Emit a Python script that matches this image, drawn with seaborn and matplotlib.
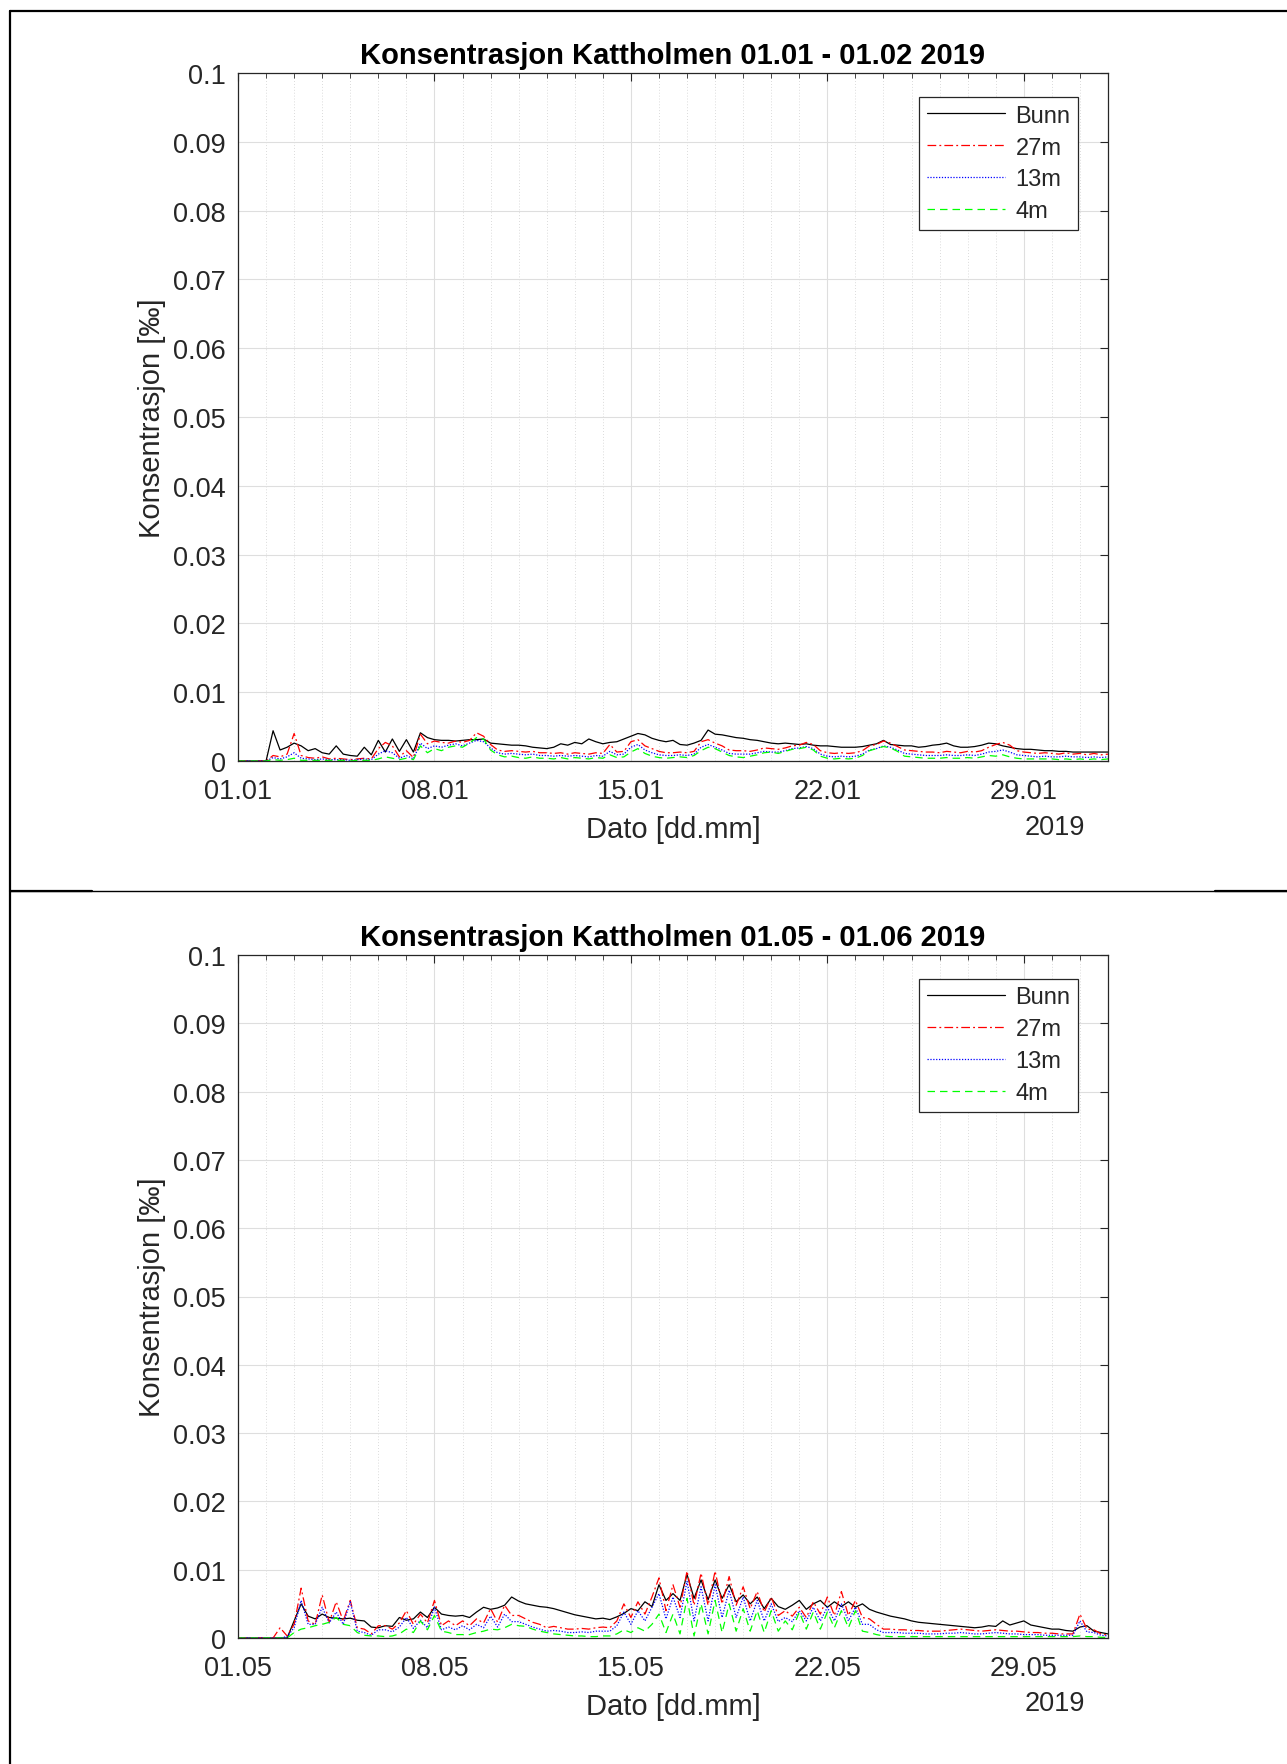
import numpy as np
import pandas as pd
import matplotlib
matplotlib.use("Agg")
import matplotlib.pyplot as plt
import matplotlib.dates as mdates
from matplotlib.lines import Line2D
from matplotlib.ticker import FixedLocator
import seaborn as sns

# Concentrations are written in thousandths (0.001 ‰) and sampled every 6 hours.
SCALE = 1e-3
SAMPLE_FREQ = "6h"

series_names = ["Bunn", "27m", "13m", "4m"]
line_colors = {"Bunn": "black", "27m": "red", "13m": "blue", "4m": "#00ff00"}
line_dashes = {"Bunn": "", "27m": (7, 2.5, 1.5, 2.5), "13m": (1, 1.3), "4m": (6, 4)}

# ---- January 2019: one row per day (00, 06, 12, 18 h), last value is 01.02 00:00
jan_bunn = [
    0, 0, 0, 0,
    0, 4.4, 1.6, 2.0,
    2.6, 2.2, 1.5, 1.8,
    1.2, 1.0, 2.2, 1.0,
    0.8, 0.7, 2.0, 0.9,
    3.0, 1.3, 3.2, 1.4,
    3.1, 1.3, 4.1, 3.4,
    3.1, 3.0, 3.0, 2.9,
    3.0, 3.1, 3.1, 3.2,
    2.6, 2.5, 2.4, 2.3,
    2.3, 2.2, 2.0, 1.9,
    1.8, 2.0, 2.5, 2.3,
    2.7, 2.5, 3.2, 2.8,
    2.5, 2.7, 2.8, 3.2,
    3.6, 4.0, 3.8, 3.3,
    3.0, 2.8, 3.0, 2.4,
    2.3, 2.6, 3.0, 4.5,
    3.9, 3.8, 3.6, 3.4,
    3.3, 3.1, 3.0, 2.8,
    2.6, 2.5, 2.6, 2.5,
    2.4, 2.5, 2.3, 2.2,
    2.2, 2.1, 2.0, 2.0,
    2.0, 2.1, 2.3, 2.5,
    3.0, 2.4, 2.3, 2.2,
    2.2, 2.0, 2.1, 2.3,
    2.4, 2.6, 2.2, 2.0,
    2.0, 2.1, 2.3, 2.6,
    2.5, 2.2, 2.0, 1.8,
    1.7, 1.7, 1.6, 1.5,
    1.5, 1.4, 1.4, 1.3,
    1.3, 1.3, 1.3, 1.3,
    1.3,
]
jan_27m = [
    0, 0, 0, 0,
    0, 0.8, 0.6, 1.0,
    4.0, 0.8, 0.5, 0.4,
    0.6, 0.3, 0.4, 0.3,
    0.2, 0.3, 0.4, 0.3,
    1.8, 2.7, 2.2, 0.6,
    1.5, 0.5, 3.9, 2.5,
    2.9, 2.7, 2.6, 2.9,
    2.7, 3.0, 4.1, 3.6,
    2.4, 1.6, 1.4, 1.5,
    1.4, 1.3, 1.4, 1.2,
    1.2, 1.1, 1.2, 1.0,
    1.2, 1.1, 1.0, 1.2,
    1.1, 2.4, 1.3, 1.4,
    2.8, 3.1, 2.2, 1.8,
    1.4, 1.2, 1.2, 1.3,
    1.2, 1.4, 2.8, 3.1,
    2.6, 2.2, 1.6, 1.5,
    1.5, 1.4, 1.6, 1.9,
    1.8, 1.7, 1.9, 2.2,
    2.3, 2.7, 2.4, 1.5,
    1.2, 1.1, 1.2, 1.1,
    1.2, 1.5, 2.2, 2.4,
    2.9, 2.6, 2.1, 1.6,
    1.5, 1.4, 1.3, 1.3,
    1.2, 1.4, 1.3, 1.2,
    1.4, 1.3, 1.5, 2.0,
    2.4, 2.7, 2.3, 1.5,
    1.3, 1.2, 1.1, 1.2,
    1.1, 1.0, 1.2, 1.0,
    1.1, 0.9, 1.1, 0.9,
    1.0,
]
jan_13m = [
    0, 0, 0, 0,
    0, 0.5, 0.3, 0.6,
    1.2, 0.4, 0.3, 0.2,
    0.3, 0.2, 0.2, 0.2,
    0.1, 0.2, 0.3, 0.2,
    1.0, 1.5, 1.2, 0.4,
    0.8, 0.3, 2.6, 1.8,
    2.2, 2.0, 2.3, 2.5,
    2.2, 2.6, 3.0, 2.8,
    1.9, 1.2, 1.0, 1.1,
    1.0, 0.9, 1.0, 0.8,
    0.8, 0.7, 0.8, 0.7,
    0.8, 0.7, 0.6, 0.8,
    0.7, 1.4, 0.9, 1.0,
    2.0, 2.4, 1.6, 1.2,
    0.9, 0.8, 0.8, 0.9,
    0.8, 1.0, 2.0, 2.4,
    2.0, 1.6, 1.1, 1.0,
    1.0, 1.0, 1.2, 1.4,
    1.3, 1.3, 1.5, 1.8,
    1.9, 2.1, 1.8, 1.0,
    0.7, 0.6, 0.7, 0.6,
    0.7, 1.0, 1.6, 1.8,
    2.2, 2.0, 1.6, 1.1,
    1.0, 0.9, 0.8, 0.8,
    0.8, 0.9, 0.8, 0.8,
    0.9, 0.8, 1.0, 1.3,
    1.4, 1.6, 1.3, 0.9,
    0.8, 0.7, 0.6, 0.7,
    0.6, 0.6, 0.7, 0.6,
    0.6, 0.5, 0.6, 0.5,
    0.6,
]
jan_4m = [
    0, 0, 0, 0,
    0, 0.2, 0.1, 0.2,
    0.4, 0.1, 0.1, 0.1,
    0.1, 0.1, 0.1, 0.1,
    0.0, 0.1, 0.1, 0.1,
    0.3, 0.6, 0.4, 0.2,
    0.4, 0.2, 2.2, 1.2,
    1.8, 1.5, 2.0, 2.2,
    2.0, 2.6, 3.4, 3.2,
    1.6, 0.9, 0.6, 0.7,
    0.5, 0.4, 0.6, 0.4,
    0.4, 0.3, 0.5, 0.3,
    0.5, 0.4, 0.3, 0.5,
    0.4, 0.9, 0.5, 0.6,
    1.3, 1.8, 1.1, 0.7,
    0.5, 0.4, 0.5, 0.6,
    0.5, 0.8, 1.5, 2.0,
    1.8, 1.3, 0.8, 0.6,
    0.5, 0.7, 0.9, 1.2,
    1.3, 1.1, 1.4, 1.7,
    1.8, 2.0, 1.6, 0.7,
    0.4, 0.3, 0.4, 0.3,
    0.4, 0.8, 1.5, 1.8,
    2.1, 1.9, 1.4, 0.7,
    0.6, 0.5, 0.4, 0.4,
    0.4, 0.5, 0.4, 0.4,
    0.5, 0.4, 0.6, 0.8,
    0.7, 0.9, 0.6, 0.4,
    0.3, 0.3, 0.3, 0.3,
    0.3, 0.2, 0.3, 0.2,
    0.3, 0.2, 0.3, 0.2,
    0.3,
]

# ---- May 2019
may_bunn = [
    0, 0, 0, 0,
    0, 0, 0, 0,
    2.5, 5.0, 3.2, 2.8,
    3.5, 3.0, 2.9, 2.8,
    2.9, 2.6, 2.5, 1.6,
    1.5, 1.8, 1.7, 3.0,
    2.6, 2.8, 3.8, 3.0,
    4.5, 3.5, 3.3, 3.2,
    3.3, 3.0, 3.8, 4.5,
    4.2, 4.4, 4.8, 6.0,
    5.4, 5.0, 4.8, 4.6,
    4.5, 4.3, 4.0, 3.7,
    3.4, 3.2, 3.0, 2.8,
    2.9, 2.7, 3.1, 3.6,
    4.3, 4.0, 5.3, 4.6,
    7.8, 5.5, 6.5, 5.5,
    9.3, 5.8, 8.5, 5.6,
    8.5, 5.8, 7.8, 5.3,
    6.3, 5.0, 6.0, 4.3,
    5.8, 4.6, 4.2, 4.8,
    5.5, 4.2, 5.0, 5.5,
    4.5, 5.3, 4.6, 5.3,
    4.5, 5.0, 4.2, 3.8,
    3.5, 3.2, 3.0, 2.8,
    2.5, 2.3, 2.2, 2.1,
    2.0, 1.9, 1.8, 1.7,
    1.6, 1.5, 1.6, 1.8,
    1.7, 2.5, 1.9, 2.2,
    2.5, 1.9, 1.7, 1.5,
    1.3, 1.3, 1.1, 1.0,
    1.6, 1.8, 1.0, 0.8,
    0.6,
]
may_27m = [
    0, 0, 0, 0,
    0, 0, 1.5, 0.3,
    2.0, 7.3, 2.5, 2.0,
    6.3, 2.3, 5.3, 2.5,
    5.5, 1.5, 1.3, 0.6,
    1.8, 1.8, 1.3, 2.2,
    4.0, 2.0, 3.5, 2.2,
    5.5, 1.8, 2.5, 1.8,
    2.5, 1.8, 2.8, 2.2,
    4.3, 2.3, 4.8, 3.3,
    3.3, 2.8, 2.3, 2.0,
    1.5, 1.7, 1.5, 1.3,
    1.3, 1.4, 1.3, 1.5,
    1.6, 1.5, 2.5, 5.0,
    3.0, 5.3, 3.5, 6.0,
    8.8, 4.0, 7.8, 4.5,
    9.8, 4.8, 9.5, 4.8,
    9.8, 5.0, 9.0, 4.8,
    7.5, 4.3, 6.8, 3.8,
    6.0, 3.3, 4.0, 3.2,
    4.5, 3.0, 5.3, 3.5,
    6.0, 3.3, 6.8, 3.3,
    5.5, 3.0, 2.8, 2.0,
    1.3, 1.3, 1.2, 1.2,
    1.1, 1.1, 1.0, 1.0,
    1.0, 1.1, 1.2, 1.3,
    1.2, 1.1, 1.0, 1.1,
    1.2, 1.1, 1.0, 1.0,
    0.9, 0.8, 0.8, 0.7,
    0.7, 0.6, 0.6, 0.6,
    3.5, 1.3, 1.2, 0.6,
    0.4,
]
may_13m = [
    0, 0, 0, 0,
    0, 0, 0, 0.2,
    1.5, 5.5, 2.0, 2.0,
    4.5, 2.2, 3.8, 2.0,
    5.3, 1.0, 0.8, 0.4,
    1.2, 1.2, 0.9, 1.6,
    3.0, 1.4, 2.6, 1.5,
    4.5, 1.2, 1.6, 1.2,
    1.8, 1.2, 2.0, 1.5,
    3.2, 1.6, 3.5, 2.4,
    2.4, 2.0, 1.6, 1.3,
    1.0, 1.1, 1.0, 0.8,
    0.8, 0.9, 0.8, 1.0,
    1.0, 1.0, 1.8, 3.8,
    2.0, 4.0, 2.5, 4.5,
    6.5, 2.8, 6.0, 3.0,
    8.3, 2.5, 7.5, 2.5,
    7.8, 3.0, 7.0, 3.0,
    6.0, 2.5, 5.5, 2.5,
    5.0, 2.4, 3.0, 2.4,
    4.0, 2.5, 4.5, 2.5,
    4.5, 2.5, 5.0, 2.5,
    4.5, 2.0, 2.0, 1.2,
    0.8, 0.8, 0.8, 0.7,
    0.7, 0.7, 0.6, 0.6,
    0.6, 0.7, 0.7, 0.8,
    0.7, 0.6, 0.6, 0.7,
    0.8, 0.7, 0.6, 0.6,
    0.5, 0.5, 0.5, 0.4,
    0.4, 0.4, 0.4, 0.4,
    2.5, 0.9, 0.8, 0.4,
    0.3,
]
may_4m = [
    0, 0, 0, 0,
    0, 0, 0, 0,
    0.8, 1.3, 1.5, 1.8,
    2.0, 2.3, 3.0, 2.0,
    1.8, 0.8, 0.4, 0.3,
    0.3, 0.2, 0.3, 0.6,
    1.3, 0.8, 2.5, 1.2,
    3.3, 1.0, 0.8, 0.5,
    0.5, 0.5, 0.8, 1.0,
    1.3, 1.2, 1.5, 2.0,
    1.8, 1.7, 1.3, 1.0,
    0.8, 0.6, 0.5, 0.4,
    0.3, 0.3, 0.2, 0.2,
    0.3, 0.3, 0.6, 1.2,
    0.8, 1.5, 1.0, 2.0,
    3.5, 0.8, 3.5, 0.6,
    5.8, 0.3, 5.0, 0.6,
    5.5, 0.8, 5.0, 1.0,
    4.3, 1.0, 4.0, 0.8,
    4.0, 1.0, 2.5, 1.2,
    3.8, 1.3, 3.8, 1.3,
    3.8, 1.5, 4.0, 1.5,
    4.0, 1.0, 0.8, 0.5,
    0.3, 0.2, 0.2, 0.2,
    0.2, 0.2, 0.2, 0.2,
    0.2, 0.2, 0.2, 0.2,
    0.2, 0.2, 0.2, 0.2,
    0.2, 0.2, 0.2, 0.2,
    0.2, 0.2, 0.2, 0.2,
    0.2, 0.2, 0.2, 0.2,
    0.3, 0.2, 0.2, 0.1,
    0.1,
]

y_ticks = [0, 0.01, 0.02, 0.03, 0.04, 0.05, 0.06, 0.07, 0.08, 0.09, 0.1]
y_tick_labels = ["0", "0.01", "0.02", "0.03", "0.04", "0.05",
                 "0.06", "0.07", "0.08", "0.09", "0.1"]
tick_days = [1, 8, 15, 22, 29]

panels = [
    {"title": "Konsentrasjon Kattholmen 01.01 - 01.02 2019",
     "start": "2019-01-01", "end": "2019-02-01",
     "series": [jan_bunn, jan_27m, jan_13m, jan_4m]},
    {"title": "Konsentrasjon Kattholmen 01.05 - 01.06 2019",
     "start": "2019-05-01", "end": "2019-06-01",
     "series": [may_bunn, may_27m, may_13m, may_4m]},
]

sns.set_style("white")
plt.rcParams["font.family"] = ["Liberation Sans", "DejaVu Sans"]
plt.rcParams["axes.unicode_minus"] = False

TXT = "#262626"
W, H = 1287, 1765
fig = plt.figure(figsize=(W / 100, H / 100), dpi=100, facecolor="white")


def px_axes(left, top, right, bottom):
    return fig.add_axes([left / W, 1 - bottom / H, (right - left) / W, (bottom - top) / H])


axes = [px_axes(238, 74, 1108, 762), px_axes(238, 956, 1108, 1639)]


def long_frame(start, columns):
    frames = []
    for name, vals in zip(series_names, columns):
        t = pd.date_range(start, periods=len(vals), freq=SAMPLE_FREQ)
        frames.append(pd.DataFrame({"Tid": t,
                                    "Konsentrasjon": np.asarray(vals, float) * SCALE,
                                    "Serie": name}))
    return pd.concat(frames, ignore_index=True)


for ax, p in zip(axes, panels):
    df = long_frame(p["start"], p["series"])
    sns.lineplot(data=df, x="Tid", y="Konsentrasjon", hue="Serie", style="Serie",
                 hue_order=series_names, style_order=series_names,
                 palette=line_colors, dashes=line_dashes, linewidth=0.9,
                 errorbar=None, ax=ax)

    start = pd.Timestamp(p["start"])
    ax.set_xlim(start, pd.Timestamp(p["end"]))
    ax.set_ylim(0, 0.1)

    major_dates = [start + pd.Timedelta(days=d - 1) for d in tick_days]
    ax.xaxis.set_major_locator(FixedLocator(mdates.date2num(major_dates)))
    ax.xaxis.set_major_formatter(mdates.DateFormatter("%d.%m"))
    ax.xaxis.set_minor_locator(mdates.DayLocator())
    ax.set_yticks(y_ticks)
    ax.set_yticklabels(y_tick_labels)

    ax.set_axisbelow(True)
    ax.grid(which="major", color="#dedede", linewidth=0.8, linestyle="-")
    ax.grid(which="minor", axis="x", color="#cfcfcf", linewidth=0.6,
            linestyle=(0, (1, 2.5)))

    ax.tick_params(which="both", direction="in", top=True, right=True,
                   color=TXT, labelcolor=TXT, labelsize=19.5, pad=9)
    ax.tick_params(axis="x", which="both", pad=12)
    ax.tick_params(which="major", length=6, width=0.8)
    ax.tick_params(which="minor", length=3.5, width=0.6)
    for sp in ax.spines.values():
        sp.set_visible(True)
        sp.set_color(TXT)
        sp.set_linewidth(0.9)

    ax.set_title(p["title"], fontsize=21, fontweight="bold", color="black", pad=7.5)
    ax.set_xlabel("Dato [dd.mm]", fontsize=21, color=TXT, labelpad=8.5)
    ax.set_ylabel("Konsentrasjon [‰]", fontsize=21, color=TXT, labelpad=4.5)
    ax.text(0.9736, -0.0955, "2019", transform=ax.transAxes, ha="right",
            va="center", fontsize=19.5, color=TXT)

    old = ax.get_legend()
    handles = old.legend_handles
    labels = [t.get_text() for t in old.get_texts()]
    old.remove()
    leg = ax.legend(handles, labels, loc="upper right",
                    bbox_to_anchor=(0.9655, 0.965), borderaxespad=0,
                    fontsize=17, handlelength=3.3, handletextpad=0.45,
                    labelspacing=0.42, borderpad=0.32, fancybox=False,
                    framealpha=1, edgecolor=TXT)
    leg.get_frame().set_linewidth(0.9)
    for t in leg.get_texts():
        t.set_color(TXT)

# Document frame around the two figures
def frame_line(xs, ys, lw):
    fig.add_artist(Line2D([x / W for x in xs], [1 - y / H for y in ys],
                          color="black", linewidth=lw, transform=fig.transFigure))


frame_line([10, 10], [12, H], 1.6)
frame_line([10, W], [12, 12], 1.6)
frame_line([10, W], [892, 892], 1.0)
frame_line([10, 92], [892, 892], 1.6)
frame_line([1215, W], [892, 892], 1.6)

fig.savefig("out.png", dpi=100, facecolor="white")
